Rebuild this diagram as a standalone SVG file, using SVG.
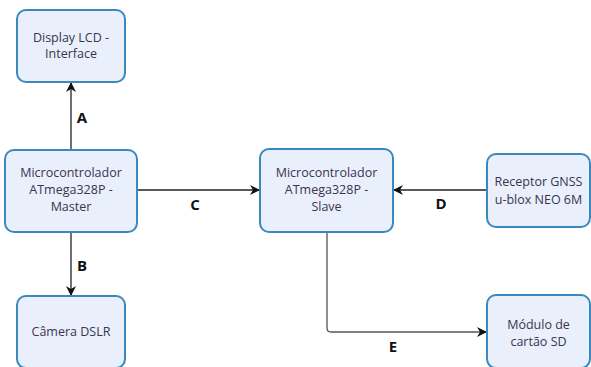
<svg xmlns="http://www.w3.org/2000/svg" width="591" height="367" viewBox="0 0 591 367">
<defs>
<style>
.box{fill:#e9effb;stroke:#3a88bd;stroke-width:2}
.t{font-family:"Open Sans","Liberation Sans",sans-serif;font-size:12.5px;fill:#3a3550;text-anchor:middle}
.lbl{font-family:"Open Sans","Liberation Sans",sans-serif;font-size:15px;font-weight:bold;fill:#111;text-anchor:middle}
.c{fill:none;stroke:#222;stroke-width:1.3}
</style>
<marker id="ah" viewBox="0 0 10 10" refX="9" refY="5" markerWidth="10" markerHeight="10" markerUnits="userSpaceOnUse" orient="auto">
<path d="M0,0 L10,5 L0,10 L3,5 Z" fill="#111"/>
</marker>
</defs>
<rect width="591" height="367" fill="#ffffff"/>
<g id="connectors">
<line class="c" x1="71" y1="150" x2="71" y2="83" marker-end="url(#ah)"/>
<line class="c" x1="71" y1="232" x2="71" y2="295" marker-end="url(#ah)"/>
<line class="c" x1="137" y1="190" x2="259" y2="190" marker-end="url(#ah)"/>
<line class="c" x1="487" y1="190" x2="394" y2="190" marker-end="url(#ah)"/>
<path class="c" style="stroke:#555" d="M327,232 L327,328 Q327,332 331,332 L486,332" marker-end="url(#ah)"/>
<text class="lbl" x="82" y="123">A</text>
<text class="lbl" x="82" y="271">B</text>
<text class="lbl" x="195" y="210">C</text>
<text class="lbl" x="441" y="209">D</text>
<text class="lbl" x="393" y="352">E</text>
</g>
<g id="display">
<rect class="box" x="17" y="10" width="108" height="72" rx="9"/>
<text class="t" x="71" y="42">Display LCD -</text>
<text class="t" x="71" y="58">Interface</text>
</g>
<g id="master">
<rect class="box" x="5" y="150" width="132" height="82" rx="9"/>
<text class="t" x="71" y="177">Microcontrolador</text>
<text class="t" x="71" y="194">ATmega328P -</text>
<text class="t" x="71" y="211">Master</text>
</g>
<g id="slave">
<rect class="box" x="260" y="149" width="133" height="83" rx="9"/>
<text class="t" x="326.5" y="177">Microcontrolador</text>
<text class="t" x="326.5" y="194">ATmega328P -</text>
<text class="t" x="326.5" y="211">Slave</text>
</g>
<g id="gnss">
<rect class="box" x="487" y="154" width="103" height="73" rx="9"/>
<text class="t" x="538.5" y="186">Receptor GNSS</text>
<text class="t" x="538.5" y="204">u-blox NEO 6M</text>
</g>
<g id="camera">
<rect class="box" x="17" y="296" width="108" height="72" rx="9"/>
<text class="t" x="71" y="336">Câmera DSLR</text>
</g>
<g id="sd">
<rect class="box" x="487" y="295" width="103" height="73" rx="9"/>
<text class="t" x="538.5" y="329">Módulo de</text>
<text class="t" x="538.5" y="346">cartão SD</text>
</g>
</svg>
